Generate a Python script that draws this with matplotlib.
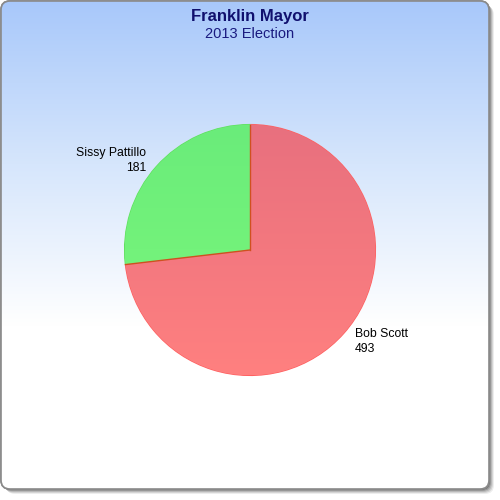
import matplotlib.pyplot as plt
import numpy as np
from matplotlib.patches import FancyBboxPatch
from matplotlib.colors import LinearSegmentedColormap

title = 'Franklin Mayor'
subtitle = '2013 Election'
candidates = ['Bob Scott', 'Sissy Pattillo']
votes = [493, 181]
tops = ['#E8707E', '#6AEC7A']
bottoms = ['#FF8080', '#7CF87C']
edges = ['#FF6060', '#60E060']

fig = plt.figure(figsize=(5, 5), dpi=100)
fig.patch.set_facecolor('white')

# background panel with shadow
bg = fig.add_axes([0, 0, 1, 1])
bg.set_xlim(0, 500)
bg.set_ylim(500, 0)
bg.axis('off')
for i, a in enumerate([0.07, 0.1, 0.13, 0.18, 0.25]):
    off = 5 - i
    sh = FancyBboxPatch((1 + off, 1 + off), 488, 488, boxstyle='round,pad=0,rounding_size=9',
                        fc='black', ec='none', alpha=a, transform=bg.transData)
    bg.add_patch(sh)
panel = FancyBboxPatch((1, 1), 488, 488, boxstyle='round,pad=0,rounding_size=9',
                       fc='white', ec='#8a8a8a', lw=1.2, transform=bg.transData)
bg.add_patch(panel)
grad = LinearSegmentedColormap.from_list('bgg', ['#A8C8FA', '#D6E6FC', '#FFFFFF', '#FFFFFF'])
g = np.linspace(0, 1, 256).reshape(-1, 1)
im = bg.imshow(g, cmap=grad, extent=[1, 489, 489, 1], aspect='auto', zorder=2)
im.set_clip_path(panel)
border = FancyBboxPatch((1, 1), 488, 488, boxstyle='round,pad=0,rounding_size=9',
                        fc='none', ec='#8a8a8a', lw=1.2, zorder=3, transform=bg.transData)
bg.add_patch(border)

fig.text(0.5, 1 - 16 / 500, title, ha='center', va='center', fontsize=12, fontweight='bold',
         color='#10106E', family='Liberation Sans')
fig.text(0.5, 1 - 34.5 / 500, subtitle, ha='center', va='center', fontsize=10.5,
         color='#1A1A80', family='Liberation Sans')

ax = fig.add_axes([124 / 500, 124 / 500, 252 / 500, 252 / 500])
ax.axis('off')
wedges, _ = ax.pie(votes, startangle=90, counterclock=False, radius=1,
                   colors=bottoms, wedgeprops=dict(linewidth=1, edgecolor='#E05030'))
for w, c_top, c_bot, ec in zip(wedges, tops, bottoms, edges):
    cm = LinearSegmentedColormap.from_list('w', [c_top, c_bot])
    gi = ax.imshow(g, cmap=cm, extent=[-1, 1, -1, 1], aspect='auto', zorder=w.get_zorder() + 0.1)
    gi.set_clip_path(w)
    w.set_edgecolor(ec)
ax.set_xlim(-1.005, 1.005)
ax.set_ylim(-1.005, 1.005)
# divider lines drawn on top
ang = 90 - 360 * votes[0] / sum(votes)
ax.plot([0, 0], [0, 1], color='#D05020', lw=1, zorder=5)
ax.plot([0, np.cos(np.radians(ang))], [0, np.sin(np.radians(ang))], color='#D05020', lw=1, zorder=5)

fs = 8.8
fig.text(146 / 500, 1 - 153 / 500, candidates[1], ha='right', va='center', fontsize=fs,
         family='Liberation Sans')
fig.text(146 / 500, 1 - 168 / 500, str(votes[1]), ha='right', va='center', fontsize=fs,
         family='Liberation Sans')
fig.text(355 / 500, 1 - 334 / 500, candidates[0], ha='left', va='center', fontsize=fs,
         family='Liberation Sans')
fig.text(355 / 500, 1 - 349 / 500, str(votes[0]), ha='left', va='center', fontsize=fs,
         family='Liberation Sans')

fig.savefig('out.png', dpi=100)
